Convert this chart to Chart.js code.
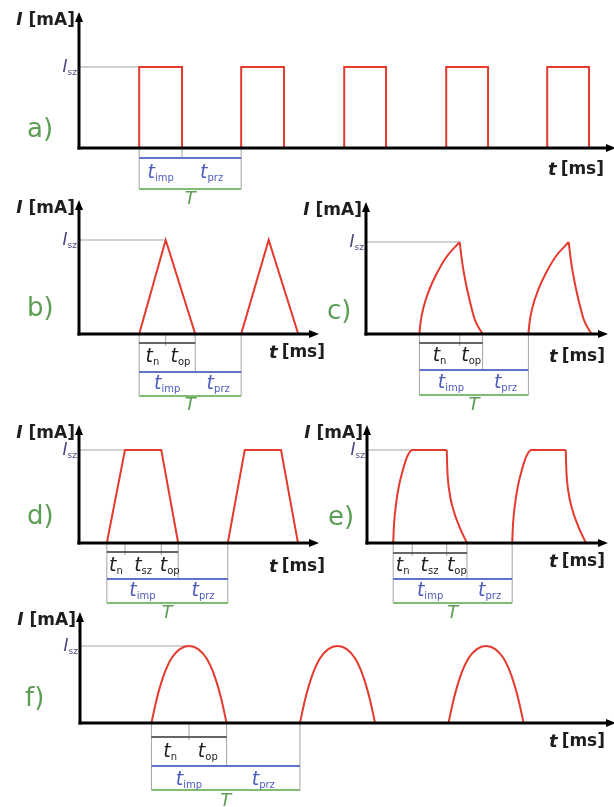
<!DOCTYPE html>
<html>
<head>
<meta charset="utf-8">
<script src="https://cdn.jsdelivr.net/npm/chart.js@4.4.0/dist/chart.umd.min.js"></script>
<style>
  html, body { margin: 0; padding: 0; background: #fff; }
  #wrap { position: relative; width: 614px; height: 807px; overflow: hidden; }
  #wrap canvas { position: absolute; left: 0; top: 0; }
</style>
</head>
<body>
<div id="wrap"></div>
<script>
// current in mA (I_sz = 10), time in ms - the original has no tick values
var I_SZ = 10;

// a) rectangular pulses
var aTime    = [0, 5.9, 5.9, 10.1, 10.1, 15.9, 15.9, 20.1, 20.1, 26.0, 26.0, 30.1, 30.1, 36.0, 36.0, 40.1, 40.1, 45.9, 45.9, 50.0, 50.0];
var aCurrent = [0, 0, 10, 10, 0, 0, 10, 10, 0, 0, 10, 10, 0, 0, 10, 10, 0, 0, 10, 10, 0];
var aPeriod  = [5.9, 15.9];
var aPhases  = [5.9, 10.1];

// b) triangular pulses
var bTime    = [0, 5.9, 8.5, 11.4, 15.9, 18.6, 21.5];
var bCurrent = [0, 0, 10, 0, 0, 10, 0];
var bPeriod  = [5.9, 15.9];
var bPhases  = [5.9, 8.5, 11.4];

// c) exponential rise / fall (null = break at the peak)
var cTime    = [4.9, 5.0, 5.3, 5.8, 6.5, 7.4, 8.6, 8.6, 8.6, 8.8, 9.1, 9.5, 10.0, 10.7, 10.7,
                14.9, 15.0, 15.3, 15.8, 16.5, 17.4, 18.6, 18.6, 18.6, 18.8, 19.1, 19.5, 20.0, 20.7];
var cCurrent = [0, 1.2, 3.0, 4.8, 6.6, 8.4, 10, null, 10, 8.0, 5.9, 3.7, 1.5, 0, null,
                0, 1.2, 3.0, 4.8, 6.6, 8.4, 10, null, 10, 8.0, 5.9, 3.7, 1.5, 0];
var cPeriod  = [4.9, 14.9];
var cPhases  = [4.9, 8.6, 10.7];

// d) trapezoidal pulses
var dTime    = [0, 2.3, 3.8, 6.8, 8.2, 12.3, 13.7, 16.7, 18.1];
var dCurrent = [0, 0, 10, 10, 0, 0, 10, 10, 0];
var dPeriod  = [2.3, 12.3];
var dPhases  = [2.3, 3.8, 6.8, 8.2];

// e) exponential trapezoid
var eTime    = [2.2, 2.27, 2.42, 2.66, 3.05, 3.35, 3.8, 6.7, 6.7, 6.7, 6.75, 6.9, 7.25, 7.75, 8.4, 8.4,
                12.2, 12.27, 12.42, 12.66, 13.05, 13.35, 13.8, 16.7, 16.7, 16.7, 16.75, 16.9, 17.25, 17.75, 18.4];
var eCurrent = [0, 2.0, 4.0, 6.0, 8.0, 9.2, 10, 10, null, 10, 7.9, 5.7, 3.6, 1.8, 0, null,
                0, 2.0, 4.0, 6.0, 8.0, 9.2, 10, 10, null, 10, 7.9, 5.7, 3.6, 1.8, 0];
var ePeriod  = [2.2, 12.2];
var ePhases  = [2.2, 3.8, 6.7, 8.4];

// f) half-wave arches
var fTime    = [4.81, 5.15, 5.6, 6.16, 6.72, 7.34, 7.96, 8.52, 9.08, 9.53, 9.87, 9.87,
                14.81, 15.15, 15.6, 16.16, 16.72, 17.34, 17.96, 18.52, 19.08, 19.53, 19.87, 19.87,
                24.81, 25.15, 25.6, 26.16, 26.72, 27.34, 27.96, 28.52, 29.08, 29.53, 29.87];
var fCurrent = [0, 3.0, 6.0, 8.4, 9.6, 10, 9.6, 8.4, 6.0, 3.0, 0, null,
                0, 3.0, 6.0, 8.4, 9.6, 10, 9.6, 8.4, 6.0, 3.0, 0, null,
                0, 3.0, 6.0, 8.4, 9.6, 10, 9.6, 8.4, 6.0, 3.0, 0];
var fPeriod  = [4.81, 14.81];
var fPhases  = [4.81, 7.34, 9.87];

var W = 614, H = 807;
var RED = '#e53a2e';
var GREEN_TXT = '#5c9e55';
var GREEN_LINE = '#80bd72';
var BLUE_TXT = '#4c5cbd';
var BLUE_LINE = '#6272c9';
var ISZ_TXT = '#4a4a7e';
var GRAY = '#a3a3a3';
var DARK = '#1e1e1e';
var FONT = '"DejaVu Sans", Verdana, sans-serif';

// page geometry of each panel: axis box, I_sz line and the timing table below
var panels = [
    { name: 'a', time: aTime, current: aCurrent, period: aPeriod, phases: aPhases, phaseNames: null, smooth: false,
      left: 79, right: 613, top: 15, bottom: 148, isz: 67, xMax: 52.35,
      row: null, blue: 158, green: 189, text1: null, text2: 173, tY: 199,
      letterX: 27, letterY: 130, unitRight: 604, unitY: 170 },
    { name: 'b', time: bTime, current: bCurrent, period: bPeriod, phases: bPhases, phaseNames: ['n', 'op'], smooth: false,
      left: 79, right: 316, top: 203, bottom: 334, isz: 240, xMax: 23.24,
      row: 343, blue: 372, green: 396, text1: 357, text2: 384, tY: 405,
      letterX: 27, letterY: 309, unitRight: 325, unitY: 353 },
    { name: 'c', time: cTime, current: cCurrent, period: cPeriod, phases: cPhases, phaseNames: ['n', 'op'], smooth: true,
      left: 366, right: 605, top: 205, bottom: 334, isz: 242, xMax: 21.93,
      row: 343, blue: 370, green: 395, text1: 356, text2: 383, tY: 405,
      letterX: 327, letterY: 312, unitRight: 605, unitY: 357 },
    { name: 'd', time: dTime, current: dCurrent, period: dPeriod, phases: dPhases, phaseNames: ['n', 'sz', 'op'], smooth: false,
      left: 79, right: 316, top: 428, bottom: 543, isz: 450, xMax: 19.59,
      row: 552, blue: 579, green: 603, text1: 566, text2: 591, tY: 613,
      letterX: 27, letterY: 517, unitRight: 325, unitY: 567 },
    { name: 'e', time: eTime, current: eCurrent, period: ePeriod, phases: ePhases, phaseNames: ['n', 'sz', 'op'], smooth: true,
      left: 367, right: 605, top: 428, bottom: 543, isz: 450, xMax: 20.0,
      row: 553, blue: 579, green: 603, text1: 566, text2: 591, tY: 613,
      letterX: 328, letterY: 518, unitRight: 605, unitY: 562 },
    { name: 'f', time: fTime, current: fCurrent, period: fPeriod, phases: fPhases, phaseNames: ['n', 'op'], smooth: true,
      left: 80, right: 613, top: 615, bottom: 723, isz: 646, xMax: 35.89,
      row: 737, blue: 766, green: 790, text1: 752, text2: 780, tY: 801,
      letterX: 25, letterY: 699, unitRight: 605, unitY: 742 }
];

function seg(ctx, x0, y0, x1, y1) {
    ctx.beginPath();
    ctx.moveTo(x0, y0);
    ctx.lineTo(x1, y1);
    ctx.stroke();
}

// italic letter with a small upright subscript
function subText(ctx, main, sub, x, y, size, color, align) {
    var mainFont = 'italic ' + size + 'px ' + FONT;
    var subFont = Math.round(size * 0.55) + 'px ' + FONT;
    ctx.font = mainFont;
    var w1 = ctx.measureText(main).width;
    ctx.font = subFont;
    var w2 = sub ? ctx.measureText(sub).width : 0;
    var sx = align === 'right' ? x - w1 - w2 : (align === 'center' ? x - (w1 + w2) / 2 : x);
    ctx.fillStyle = color;
    ctx.textAlign = 'left';
    ctx.textBaseline = 'middle';
    ctx.font = mainFont;
    ctx.fillText(main, sx, y);
    if (sub) {
        ctx.font = subFont;
        ctx.fillText(sub, sx + w1, y + size * 0.3);
    }
}

function decor(p) {
    return {
        id: 'decor_' + p.name,
        beforeDatasetsDraw: function (chart) {
            var ctx = chart.ctx, xs = chart.scales.x, ys = chart.scales.y;
            var base = ys.getPixelForValue(0);
            var ySz = ys.getPixelForValue(I_SZ);
            var first = p.time[p.current.indexOf(I_SZ)];
            var x0 = xs.getPixelForValue(p.period[0]);
            var x1 = xs.getPixelForValue(p.period[1]);
            var xi = xs.getPixelForValue(p.phases[p.phases.length - 1]);

            ctx.save();
            ctx.strokeStyle = GRAY;
            ctx.lineWidth = 1;
            seg(ctx, p.left, ySz, xs.getPixelForValue(first), ySz);
            seg(ctx, x0, base, x0, p.green);
            seg(ctx, x1, base, x1, p.green);
            seg(ctx, xi, base, xi, p.blue);
            for (var k = 1; k < p.phases.length - 1; k++) {
                var xk = xs.getPixelForValue(p.phases[k]);
                seg(ctx, xk, base, xk, p.row + 3);
            }
            ctx.restore();
        },
        afterDatasetsDraw: function (chart) {
            var ctx = chart.ctx, xs = chart.scales.x, ys = chart.scales.y;
            var base = ys.getPixelForValue(0);
            var ySz = ys.getPixelForValue(I_SZ);
            var x0 = xs.getPixelForValue(p.period[0]);
            var x1 = xs.getPixelForValue(p.period[1]);
            var xi = xs.getPixelForValue(p.phases[p.phases.length - 1]);

            ctx.save();
            // axes with arrow heads
            ctx.strokeStyle = '#000';
            ctx.fillStyle = '#000';
            ctx.lineWidth = 3;
            seg(ctx, p.left, base + 1.5, p.left, p.top + 4);
            seg(ctx, p.left - 1.5, base, p.right - 4, base);
            ctx.beginPath();
            ctx.moveTo(p.left, p.top - 3);
            ctx.lineTo(p.left - 4, p.top + 7);
            ctx.lineTo(p.left + 4, p.top + 7);
            ctx.closePath();
            ctx.fill();
            ctx.beginPath();
            ctx.moveTo(p.right + 3, base);
            ctx.lineTo(p.right - 7, base - 4);
            ctx.lineTo(p.right - 7, base + 4);
            ctx.closePath();
            ctx.fill();

            // axis titles
            ctx.textBaseline = 'middle';
            ctx.textAlign = 'right';
            ctx.fillStyle = DARK;
            ctx.font = 'bold 17px ' + FONT;
            ctx.fillText('[mA]', p.left - 4, p.top + 6);
            var wu = ctx.measureText('[mA]').width;
            ctx.font = 'italic bold 17px ' + FONT;
            ctx.fillText('I', p.left - 4 - wu - 6, p.top + 6);

            ctx.font = 'bold 17px ' + FONT;
            ctx.fillText('[ms]', p.unitRight, p.unitY);
            var wm = ctx.measureText('[ms]').width;
            ctx.font = 'italic bold 18px ' + FONT;
            ctx.fillText('t', p.unitRight - wm - 4, p.unitY);

            subText(ctx, 'I', 'sz', p.left - 2, ySz + 1, 17, ISZ_TXT, 'right');

            ctx.textAlign = 'left';
            ctx.fillStyle = GREEN_TXT;
            ctx.font = '26px ' + FONT;
            ctx.fillText(p.name + ')', p.letterX, p.letterY);

            // timing table
            if (p.phaseNames) {
                ctx.strokeStyle = '#333';
                ctx.lineWidth = 1.5;
                seg(ctx, x0, p.row, xi, p.row);
                for (var k = 0; k < p.phaseNames.length; k++) {
                    var a = xs.getPixelForValue(p.phases[k]);
                    var b = xs.getPixelForValue(p.phases[k + 1]);
                    subText(ctx, 't', p.phaseNames[k], (a + b) / 2, p.text1, 19, DARK, 'center');
                }
            }
            ctx.lineWidth = 2;
            ctx.strokeStyle = BLUE_LINE;
            seg(ctx, x0, p.blue, x1, p.blue);
            ctx.strokeStyle = GREEN_LINE;
            seg(ctx, x0, p.green, x1, p.green);
            subText(ctx, 't', 'imp', (x0 + xi) / 2, p.text2, 19, BLUE_TXT, 'center');
            subText(ctx, 't', 'prz', (xi + x1) / 2, p.text2, 19, BLUE_TXT, 'center');
            subText(ctx, 'T', '', (x0 + x1) / 2, p.tY, 18, GREEN_TXT, 'center');
            ctx.restore();
        }
    };
}

var wrap = document.getElementById('wrap');
panels.forEach(function (p) {
    var canvas = document.createElement('canvas');
    canvas.width = W;
    canvas.height = H;
    wrap.appendChild(canvas);

    var points = p.time.map(function (t, i) {
        return { x: t, y: p.current[i] };
    });
    var yMax = I_SZ * (p.bottom - p.top) / (p.bottom - p.isz);

    new Chart(canvas.getContext('2d'), {
        type: 'line',
        data: {
            datasets: [{
                data: points,
                borderColor: RED,
                borderWidth: 2,
                pointRadius: 0,
                fill: false,
                spanGaps: false,
                clip: false,
                tension: 0,
                cubicInterpolationMode: p.smooth ? 'monotone' : 'default'
            }]
        },
        options: {
            responsive: false,
            animation: false,
            events: [],
            layout: {
                padding: { left: p.left, right: W - p.right, top: p.top, bottom: H - p.bottom }
            },
            scales: {
                x: { type: 'linear', min: 0, max: p.xMax, display: false },
                y: { type: 'linear', min: 0, max: yMax, display: false }
            },
            plugins: {
                legend: { display: false },
                tooltip: { enabled: false }
            }
        },
        plugins: [decor(p)]
    });
});
</script>
</body>
</html>
